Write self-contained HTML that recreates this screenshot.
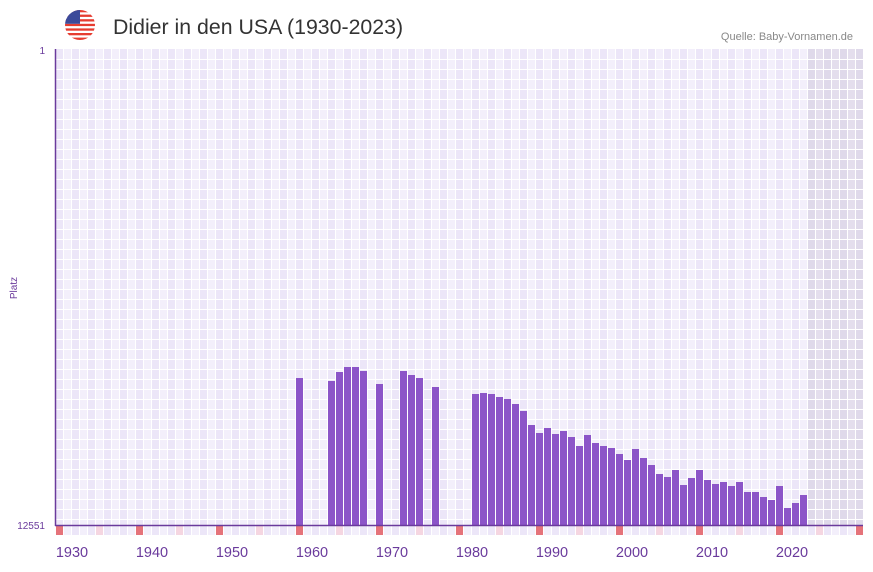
<!DOCTYPE html>
<html><head><meta charset="utf-8"><style>
body{margin:0;background:#fff;width:873px;height:567px;overflow:hidden;font-family:"Liberation Sans",sans-serif}
</style></head><body>
<svg id="s" width="873" height="567" xmlns="http://www.w3.org/2000/svg">
<defs><clipPath id="fc"><circle cx="80" cy="25" r="15"/></clipPath></defs>
<g clip-path="url(#fc)">
<rect x="65" y="10" width="30" height="30" fill="#fff"/>
<rect x="65" y="10" width="30" height="2.3" fill="#e63c30"/>
<rect x="65" y="14.6" width="30" height="2.3" fill="#e63c30"/>
<rect x="65" y="19.2" width="30" height="2.3" fill="#e63c30"/>
<rect x="65" y="23.8" width="30" height="2.3" fill="#e63c30"/>
<rect x="65" y="28.4" width="30" height="2.3" fill="#e63c30"/>
<rect x="65" y="33" width="30" height="2.3" fill="#e63c30"/>
<rect x="65" y="37.6" width="30" height="2.4" fill="#e63c30"/>
<rect x="65" y="10" width="15" height="13.8" fill="#3c4a9a"/>
</g>
<text x="113" y="34" font-size="21.3" fill="#333">Didier in den USA (1930-2023)</text>
<text x="853" y="40" font-size="11" fill="#888" text-anchor="end">Quelle: Baby-Vornamen.de</text>
<g id="grid"></g>
<g id="bars"></g>
<line x1="55.5" y1="49" x2="55.5" y2="526" stroke="#6a3a9c" stroke-width="1.5"/>
<line x1="55" y1="525.5" x2="863" y2="525.5" stroke="#6a3a9c" stroke-width="1.5"/>
<text x="45" y="54" font-size="10" fill="#6a3a9c" text-anchor="end">1</text>
<text x="45" y="529" font-size="10" fill="#6a3a9c" text-anchor="end">12551</text>
<text transform="translate(17,288) rotate(-90)" font-size="10" fill="#6a3a9c" text-anchor="middle">Platz</text>
<g id="xl"></g>
</svg>
<script>
var NS="http://www.w3.org/2000/svg";
function el(p,t,a){var e=document.createElementNS(NS,t);for(var k in a)e.setAttribute(k,a[k]);p.appendChild(e);return e;}
var g=document.getElementById('grid');
for(var i=0;i<101;i++){var x=56+i*8;if(x>=863)break;var w=Math.min(8,863-x);
 var yr=1928+i;
 el(g,'rect',{x:x,y:49,width:w,height:476,fill:(yr>=2022)?(i%2?'#e4deed':'#dfd9ea'):(i%2?'#f3effb':'#ece6f8')});
 var c=(yr%10==8)?'#e5737a':(yr%10==3?'#f5d6e1':(i%2?'#f3effb':'#ece6f8'));
 el(g,'rect',{x:x,y:526,width:w,height:9,fill:c});
 el(g,'rect',{x:x+7,y:49,width:1,height:486,fill:'#fff'});
}
for(var y=59;y<525;y+=10)el(g,'rect',{x:56,y:y,width:807,height:1,fill:'#fff'});
var d={1958:378,1962:381,1963:372,1964:367,1965:367,1966:371,1968:384,1971:371,1972:375,1973:378,1975:387,
1980:394,1981:393,1982:394,1983:397,1984:399,1985:404,1986:411,1987:425,1988:433,1989:428,1990:434,1991:431,
1992:437,1993:446,1994:435,1995:443,1996:446,1997:448,1998:454,1999:460,2000:449,2001:458,2002:465,2003:474,
2004:477,2005:470,2006:485,2007:478,2008:470,2009:480,2010:484,2011:482,2012:486,2013:482,2014:492,2015:492,
2016:497,2017:500,2018:486,2019:508,2020:503,2021:495};
var b=document.getElementById('bars');
for(var k in d){var x=56+(k-1928)*8;el(b,'rect',{x:x,y:d[k],width:7,height:525-d[k],fill:'#8c55c8'});}
var xl=document.getElementById('xl');
for(var yr=1930;yr<=2020;yr+=10){var t=el(xl,'text',{x:72+(yr-1930)*8,y:557,'font-size':14.5,fill:'#6a3a9c','text-anchor':'middle'});t.textContent=yr;}
</script>
</body></html>
